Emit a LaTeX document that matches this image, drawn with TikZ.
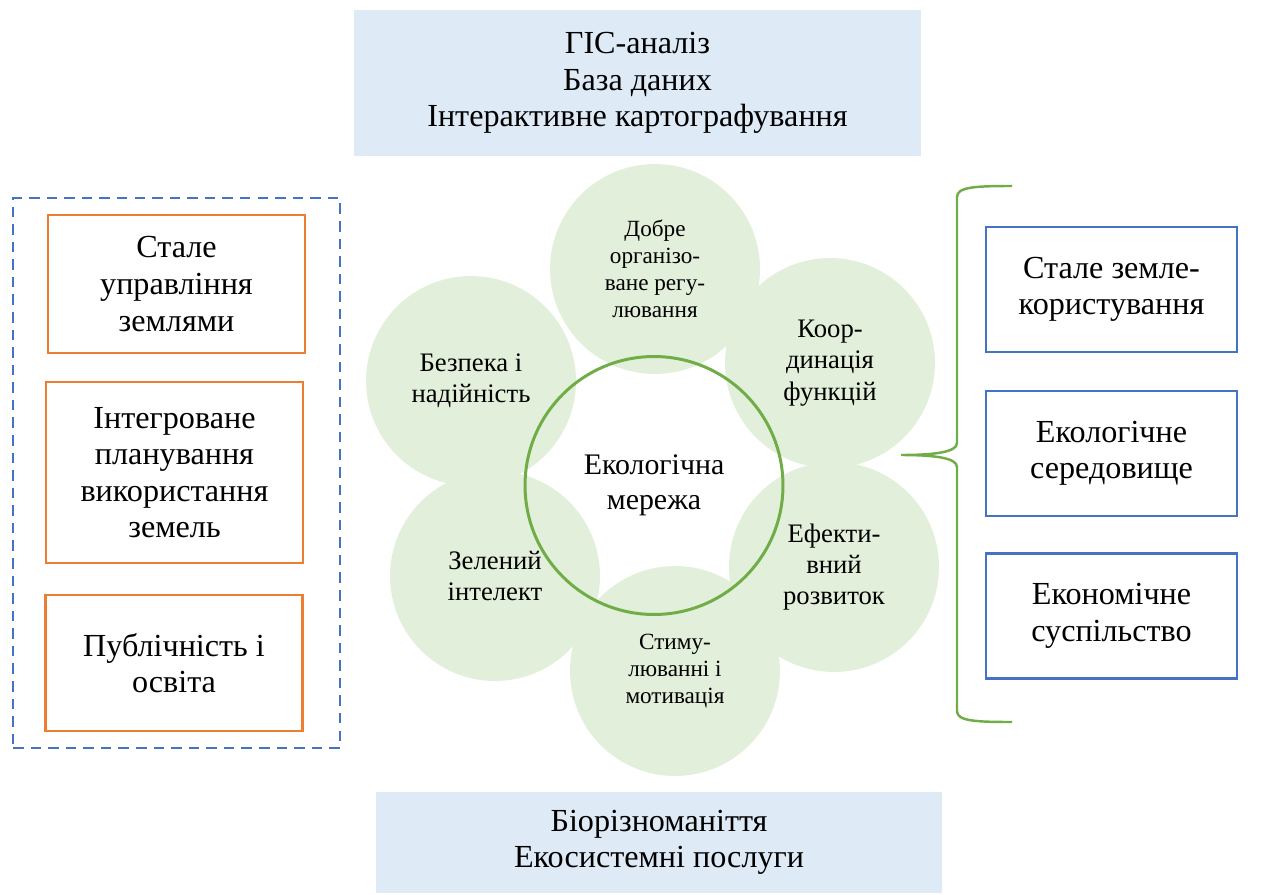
\documentclass[tikz,border=0pt]{standalone}
\usepackage{fontspec}
\setmainfont{Liberation Serif}
\usepackage{tikz}
\usetikzlibrary{positioning,calc}
\definecolor{lightblue}{HTML}{DEEBF7}
\definecolor{petal}{HTML}{E2EFDA}
\definecolor{leaf}{HTML}{70AD47}
\definecolor{tangerine}{HTML}{ED7D31}
\definecolor{steel}{HTML}{4472C4}
\tikzset{
  bigfont/.style={font=\fontsize{18.3}{20.8}\selectfont},
  midfont/.style={font=\fontsize{15.2}{17.8}\selectfont},
  smallfont/.style={font=\fontsize{13.2}{15.4}\selectfont},
  bandbox/.style={fill=lightblue, align=center, inner sep=0pt, bigfont},
  orangebox/.style={draw=tangerine, line width=1.2pt, align=center, inner sep=0pt, minimum width=5.14cm, bigfont},
  bluebox/.style={draw=steel, line width=1.2pt, align=center, inner sep=0pt, minimum width=5.02cm, minimum height=2.5cm, bigfont},
  petalnode/.style={circle, fill=petal, minimum size=4.2cm, inner sep=0pt, align=center, midfont},
  hub/.style={circle, draw=leaf, line width=1.7pt, minimum size=5.16cm, inner sep=0pt, align=center, font=\fontsize{17}{20}\selectfont},
  frame/.style={draw=steel, line width=1.1pt, dash pattern=on 6pt off 4pt, minimum width=6.54cm, minimum height=11cm, inner sep=0pt},
  bracepath/.style={draw=leaf, line width=1.4pt}
}
\begin{document}
\begin{tikzpicture}[x=0.02cm, y=-0.02cm]
\useasboundingbox (0,0) rectangle (1270,895);
% top and bottom bands
\node[bandbox, minimum width=11.34cm, minimum height=2.92cm] (gis) at (637.5,83) {ГІС-аналіз\\База даних\\Інтерактивне картографування};
\node[bandbox, minimum width=11.32cm, minimum height=2.02cm] (bio) at (659,842.5) {Біорізноманіття\\Екосистемні послуги};
% left group
\node[frame] (group) at (176.5,473) {};
\node[orangebox, minimum height=2.76cm] (manage) at (176.5,284) {Стале\\управління\\землями};
\node[orangebox, minimum height=3.62cm] (plan) at (174.5,472.5) {Інтегроване\\планування\\використання\\земель};
\node[orangebox, minimum height=2.72cm] (public) at (174,663) {Публічність і\\освіта};
% flower
\node[petalnode, smallfont] (regul) at (655,269) {Добре\\організо-\\ване регу-\\лювання};
\node[petalnode] (coord) at (830,363) {Коор-\\динація\\функцій};
\node[petalnode] (effect) at (834,567) {Ефекти-\\вний\\розвиток};
\node[petalnode, smallfont] (stim) at (675,671) {Стиму-\\люванні і\\мотивація};
\node[petalnode] (green) at (495,576) {Зелений\\інтелект};
\node[petalnode] (safe) at (471,381) {Безпека і\\надійність};
\node[hub] (net) at (654,485.5) {Екологічна\\мережа};
% right group
\node[bluebox] (landuse) at (1111.5,289.5) {Стале земле-\\користування};
\node[bluebox] (ecoenv) at (1111.5,453.5) {Екологічне\\середовище};
\node[bluebox] (ecosoc) at (1111.5,616) {Економічне\\суспільство};
% brace
\coordinate (tip) at (901,455);
\draw[bracepath] (1012,186) .. controls (975,186) and (957,187) .. (957,197) -- (957,443)
  .. controls (957,452) and (935,455) .. (tip)
  .. controls (935,455) and (957,458) .. (957,467) -- (957,711)
  .. controls (957,721) and (975,722) .. (1012,722);
\end{tikzpicture}
\end{document}
